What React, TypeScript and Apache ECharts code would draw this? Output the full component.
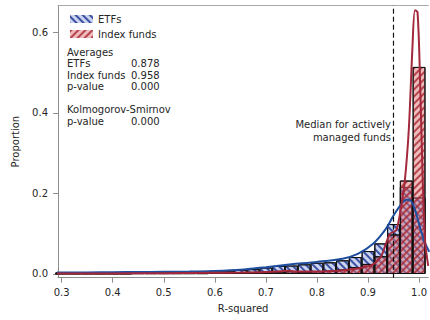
import React, { useEffect, useRef } from "react";
import * as echarts from "echarts";

const binCenters = [
  0.3, 0.325, 0.35, 0.375, 0.4, 0.425, 0.45, 0.475, 0.5, 0.525, 0.55, 0.575,
  0.6, 0.625, 0.65, 0.675, 0.7, 0.725, 0.75, 0.775, 0.8, 0.825, 0.85, 0.875,
  0.9, 0.925, 0.95, 0.975, 1.0,
];
const etfShare = [
  0.004, 0.004, 0.004, 0.004, 0.004, 0.005, 0.005, 0.005, 0.006, 0.006, 0.006, 0.007,
  0.008, 0.008, 0.01, 0.012, 0.016, 0.02, 0.021, 0.024, 0.028, 0.029, 0.034, 0.042,
  0.057, 0.076, 0.124, 0.216, 0.19,
];
const indexShare = [
  0.001, 0.001, 0.001, 0.001, 0.001, 0.001, 0.002, 0.002, 0.002, 0.002, 0.002, 0.002,
  0.003, 0.003, 0.003, 0.004, 0.005, 0.006, 0.007, 0.006, 0.007, 0.008, 0.011, 0.017,
  0.025, 0.044, 0.098, 0.232, 0.514,
];

const etfKdeX = [0.29, 0.35, 0.4, 0.45, 0.5, 0.55, 0.6, 0.65, 0.7, 0.75, 0.8, 0.85, 0.88, 0.91, 0.935, 0.95, 0.963, 0.975, 0.983, 0.992, 1.0, 1.01, 1.02];
const etfKdeY = [0.0035, 0.004, 0.0045, 0.005, 0.0055, 0.006, 0.0075, 0.0105, 0.017, 0.024, 0.03, 0.038, 0.05, 0.075, 0.112, 0.145, 0.17, 0.184, 0.183, 0.16, 0.124, 0.082, 0.055];

const idxKdeX = [0.29, 0.4, 0.5, 0.6, 0.65, 0.7, 0.73, 0.745, 0.76, 0.8, 0.84, 0.87, 0.89, 0.91, 0.925, 0.935, 0.943, 0.95, 0.956, 0.964, 0.972, 0.98, 0.987, 0.992, 0.997, 1.002, 1.007, 1.012, 1.018];
const idxKdeY = [0.001, 0.0015, 0.002, 0.003, 0.0035, 0.005, 0.007, 0.008, 0.006, 0.006, 0.008, 0.012, 0.016, 0.024, 0.042, 0.075, 0.1, 0.104, 0.11, 0.16, 0.23, 0.36, 0.56, 0.655, 0.65, 0.48, 0.24, 0.08, 0.02];

const xTickValues = [0.3, 0.4, 0.5, 0.6, 0.7, 0.8, 0.9, 1.0];
const yTickValues = [0, 0.2, 0.4, 0.6];
const medianActive = 0.948;

const statLabels = ["Averages", "ETFs", "Index funds", "p-value", "Kolmogorov-Smirnov", "p-value"];
const statValues = ["", "0.878", "0.958", "0.000", "", "0.000"];
const statY = [52, 63.5, 75.2, 86.9, 109.8, 121];

const FONT = '"DejaVu Sans", sans-serif';
const X_MIN = 0.2928;
const X_MAX = 1.0181;
const Y_MIN = -0.0092;
const Y_MAX = 0.6665;
const GRID_LEFT = 58;
const GRID_TOP = 5.5;
const GRID_BOTTOM = 42.3;
const W = 430;
const H = 320;

export default function App() {
  const ref = useRef<HTMLDivElement>(null);
  useEffect(() => {
    const chart = echarts.init(ref.current!, null, { renderer: "svg" });
    const plotW = W - GRID_LEFT;
    const barW = (0.025 / (X_MAX - X_MIN)) * plotW;
    const axisColor = "#8e8e8e";
    const textColor = "#262626";

    const graphics: any[] = [];
    statLabels.forEach((t, i) => {
      graphics.push({
        type: "text",
        x: 67,
        y: statY[i],
        style: { text: t, font: `10px ${FONT}`, fill: textColor, verticalAlign: "middle" },
      });
      if (statValues[i]) {
        graphics.push({
          type: "text",
          x: 131,
          y: statY[i],
          style: { text: statValues[i], font: `10px ${FONT}`, fill: textColor, verticalAlign: "middle" },
        });
      }
    });
    graphics.push({
      type: "text",
      x: 391,
      y: 124.5,
      style: { text: "Median for actively", font: `10px ${FONT}`, fill: textColor, align: "right", verticalAlign: "middle" },
    });
    graphics.push({
      type: "text",
      x: 391,
      y: 137,
      style: { text: "managed funds", font: `10px ${FONT}`, fill: textColor, align: "right", verticalAlign: "middle" },
    });

    chart.setOption({
      animation: false,
      backgroundColor: "#ffffff",
      textStyle: { fontFamily: FONT },
      grid: { left: GRID_LEFT, right: 0, top: GRID_TOP, bottom: GRID_BOTTOM, containLabel: false },
      legend: {
        data: ["ETFs", "Index funds"],
        orient: "vertical",
        left: 65,
        top: 9,
        itemWidth: 23,
        itemHeight: 8,
        itemGap: 5,
        icon: "rect",
        itemStyle: { borderWidth: 0 },
        textStyle: { fontSize: 10, color: textColor, fontFamily: FONT },
      },
      xAxis: [
        {
          type: "value",
          min: X_MIN,
          max: X_MAX,
          axisLine: { show: true, onZero: false, lineStyle: { color: axisColor, width: 1 } },
          axisTick: { show: true, customValues: xTickValues, length: 5, lineStyle: { color: axisColor } },
          axisLabel: {
            customValues: xTickValues,
            formatter: (v: number) => v.toFixed(1),
            fontSize: 10,
            color: textColor,
            margin: 10,
            fontFamily: FONT,
          },
          splitLine: { show: false },
          name: "R-squared",
          nameLocation: "middle",
          nameGap: 26,
          nameTextStyle: { fontSize: 10, color: textColor, fontFamily: FONT },
        },
        {
          type: "value",
          position: "top",
          min: X_MIN,
          max: X_MAX,
          axisLine: { show: true, onZero: false, lineStyle: { color: "#a8a8a8", width: 1 } },
          axisTick: { show: false },
          axisLabel: { show: false },
          splitLine: { show: false },
        },
      ],
      yAxis: {
        type: "value",
        min: Y_MIN,
        max: Y_MAX,
        axisLine: { show: true, onZero: false, lineStyle: { color: axisColor, width: 1 } },
        axisTick: { show: true, customValues: yTickValues, length: 5, lineStyle: { color: axisColor } },
        axisLabel: {
          customValues: yTickValues,
          formatter: (v: number) => v.toFixed(1),
          fontSize: 10,
          color: textColor,
          margin: 10,
          fontFamily: FONT,
        },
        splitLine: { show: false },
        name: "Proportion",
        nameLocation: "middle",
        nameGap: 38,
        nameTextStyle: { fontSize: 10, color: textColor, fontFamily: FONT },
      },
      series: [
        {
          name: "ETFs",
          type: "bar",
          xAxisIndex: 0,
          barWidth: barW,
          barGap: "-100%",
          data: binCenters.map((x, i) => [x, etfShare[i]]),
          itemStyle: {
            color: "rgba(160,175,225,0.55)",
            borderColor: "#111111",
            borderWidth: 1,
            decal: {
              symbol: "rect",
              symbolSize: 1,
              dashArrayX: [1, 0],
              dashArrayY: [1.2, 2.6],
              rotation: Math.PI / 4,
              color: "rgba(35,60,150,0.85)",
            },
          },
          markLine: {
            silent: true,
            symbol: ["none", "none"],
            label: { show: false },
            lineStyle: { color: "#111111", width: 1.2, type: [5, 3] },
            data: [{ xAxis: medianActive }],
          },
        },
        {
          name: "Index funds",
          type: "bar",
          xAxisIndex: 0,
          barWidth: barW,
          barGap: "-100%",
          data: binCenters.map((x, i) => [x, indexShare[i]]),
          itemStyle: {
            color: "rgba(220,120,120,0.5)",
            borderColor: "#111111",
            borderWidth: 1,
            decal: {
              symbol: "rect",
              symbolSize: 1,
              dashArrayX: [1, 0],
              dashArrayY: [1.2, 2.6],
              rotation: -Math.PI / 4,
              color: "rgba(170,40,50,0.8)",
            },
          },
        },
        {
          name: "ETF kde",
          type: "line",
          xAxisIndex: 0,
          data: etfKdeX.map((x, i) => [x, etfKdeY[i]]),
          smooth: 0.3,
          showSymbol: false,
          lineStyle: { color: "#1f4f9e", width: 2 },
          clip: true,
          z: 3,
        },
        {
          name: "Index kde",
          type: "line",
          xAxisIndex: 0,
          data: idxKdeX.map((x, i) => [x, idxKdeY[i]]),
          smooth: 0.3,
          showSymbol: false,
          lineStyle: { color: "#a3283c", width: 2 },
          clip: true,
          z: 3,
        },
      ],
      graphic: graphics,
    });
    return () => chart.dispose();
  }, []);
  return (
    <div
      ref={ref}
      style={{ position: "fixed", left: 0, top: 0, width: W, height: H, background: "#fff" }}
    />
  );
}
